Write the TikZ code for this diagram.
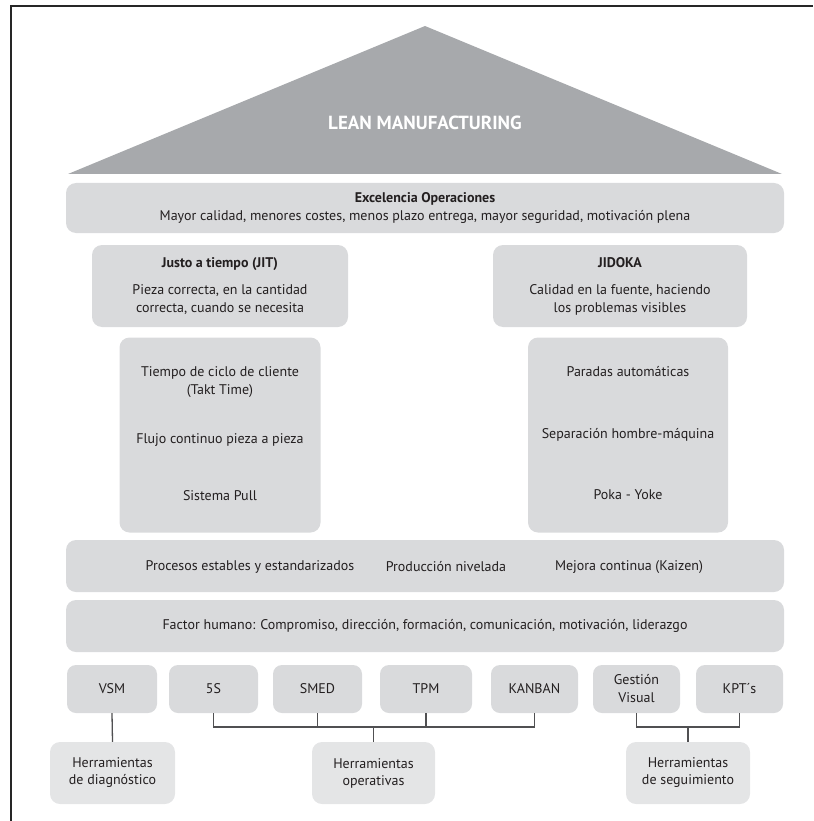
\documentclass[tikz,border=0pt]{standalone}
\usepackage{fontspec}
\setmainfont{PT Sans}
\definecolor{roofgray}{HTML}{A7A9AC}
\definecolor{boxgray}{HTML}{D9DADC}
\definecolor{toolgray}{HTML}{E4E5E6}
\definecolor{ink}{HTML}{231F20}
\definecolor{wire}{HTML}{505052}
\begin{document}
\begin{tikzpicture}[x=1pt,y=-1pt,
  every node/.style={text=ink},
  body/.style={font=\fontsize{14}{18}\selectfont},
  txt/.style={body, inner sep=0pt, align=center},
  band/.style={fill=boxgray, rounded corners=10pt, inner sep=0pt,
    minimum width=718pt, minimum height=51pt, body, align=center},
  pillar/.style={fill=boxgray, rounded corners=10pt, inner sep=0pt,
    minimum height=82pt, body, align=center},
  column/.style={fill=boxgray, rounded corners=10pt, inner sep=0pt,
    minimum height=195pt},
  tool/.style={fill=boxgray, rounded corners=9pt, inner sep=0pt,
    minimum height=48pt, body, align=center},
  group/.style={fill=toolgray, rounded corners=10pt, inner sep=0pt,
    minimum height=62pt, font=\fontsize{14}{17}\selectfont, align=center},
  link/.style={draw=wire, line width=1.3pt}
]
\useasboundingbox (0,0) rectangle (813,821);

% outer frame (top and left edges)
\draw[line width=2pt, draw=black!85] (11,821) -- (11,6) -- (813,6);

% roof
\coordinate (roofL) at (68,174);
\coordinate (roofT) at (425,26);
\coordinate (roofR) at (782,174);
\fill[roofgray] (roofL) -- (roofT) -- (roofR) -- cycle;
\node[text=white, font=\fontsize{19}{22}\selectfont\bfseries, inner sep=0pt] (lean) at (425,123) {LEAN MANUFACTURING};

% operational excellence
\node[band, minimum height=50pt] (exc) at (425,208)
  {\textbf{Excelencia Operaciones}\\Mayor calidad, menores costes, menos plazo entrega, mayor seguridad, motivación plena};

% pillar heads
\node[pillar, minimum width=256pt] (jit) at (220,286)
  {\textbf{Justo a tiempo (JIT)}\\[9pt]Pieza correcta, en la cantidad\\correcta, cuando se necesita};
\node[pillar, minimum width=254pt] (jid) at (620,286)
  {\textbf{JIDOKA}\\[9pt]Calidad en la fuente, haciendo\\los problemas visibles};

% pillar columns
\node[column, minimum width=201pt] (jitcol) at (220,435) {};
\node[txt] (takt) at (220,382) {Tiempo de ciclo de cliente\\(Takt Time)};
\node[txt] (flujo) at (220,440) {Flujo continuo pieza a pieza};
\node[txt] (pull) at (220,496) {Sistema Pull};

\node[column, minimum width=200pt] (jidcol) at (628,435) {};
\node[txt] (paradas) at (628,372) {Paradas automáticas};
\node[txt] (sep) at (628,435) {Separación hombre-máquina};
\node[txt] (poka) at (628,495) {Poka - Yoke};

% foundations
\node[band, minimum height=52pt] (base1) at (425,566) {};
\node[txt] (proc) at (250,567) {Procesos estables y estandarizados};
\node[txt] (nivel) at (446,567) {Producción nivelada};
\node[txt] (kaizen) at (629,567) {Mejora continua (Kaizen)};

\node[band, minimum height=52pt] (base2) at (425,626)
  {Factor humano: Compromiso, dirección, formación, comunicación, motivación, liderazgo};

% tools
\node[tool, minimum width=90pt] (vsm) at (112,689) {VSM};
\node[tool, minimum width=89pt] (s5) at (213.5,689) {5S};
\node[tool, minimum width=89pt] (smed) at (317.5,689) {SMED};
\node[tool, minimum width=92pt] (tpm) at (426,689) {TPM};
\node[tool, minimum width=87pt] (kanban) at (534.5,689) {KANBAN};
\node[tool, minimum width=87pt] (gv) at (636.5,689) {Gestión\\Visual};
\node[tool, minimum width=87pt] (kpt) at (739.5,689) {KPT´s};

% tool groups
\node[group, minimum width=125pt] (diag) at (112.5,773) {Herramientas\\de diagnóstico};
\node[group, minimum width=123pt] (oper) at (373.5,773) {Herramientas\\operativas};
\node[group, minimum width=124pt] (seg) at (688,773) {Herramientas\\de seguimiento};

% connectors
\coordinate (bus) at (0,727);
\draw[link] (vsm.south) -- (diag.north);

\draw[link] (s5.south) -- (s5.south |- bus) -- (kanban.south |- bus) -- (kanban.south);
\draw[link] (smed.south) -- (smed.south |- bus);
\draw[link] (tpm.south) -- (tpm.south |- bus);
\draw[link] (oper.north) -- (oper.north |- bus);

\draw[link] (gv.south) -- (gv.south |- bus) -- (kpt.south |- bus) -- (kpt.south);
\draw[link] (seg.north) -- (seg.north |- bus);
\end{tikzpicture}
\end{document}
